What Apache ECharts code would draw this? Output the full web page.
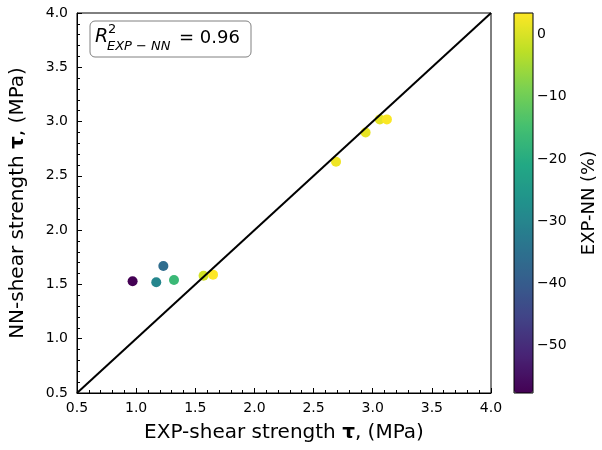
<!DOCTYPE html>
<html><head><meta charset="utf-8">
<script src="https://cdn.jsdelivr.net/npm/echarts@6/dist/echarts.min.js"></script>
<style>html,body{margin:0;padding:0;background:#fff}#c{width:602px;height:450px}</style>
</head><body><div id="c"></div>
<script>
// EXP vs NN shear strength (MPa) and relative difference (%)
const expStrength = [0.97, 1.17, 1.23, 1.32, 1.57, 1.65, 2.69, 2.94, 3.06, 3.12];
const nnStrength  = [1.53, 1.52, 1.67, 1.54, 1.58, 1.59, 2.63, 2.90, 3.02, 3.02];
const errorPct    = [-57.7, -29.9, -35.8, -16.7, -0.6, 3.5, 2.2, 1.4, 1.3, 3.2];
const diagonal    = [0.5, 4.0];
const axisTicks   = [0.5, 1.0, 1.5, 2.0, 2.5, 3.0, 3.5, 4.0];
const cbTicks     = [-50, -40, -30, -20, -10, 0];
const cbRange     = [-57.7, 3.5];
const r2Value     = '0.96';

const viridis = ['#440154','#482475','#414487','#355f8d','#2a788e','#21918c','#22a884','#44bf70','#7ad151','#bddf26','#fde725'];
const FONT = 'DejaVu Sans';
const chart = echarts.init(document.getElementById('c'), null, {renderer: 'canvas'});

const pts = expStrength.map((x, i) => [x, nnStrength[i], errorPct[i]]);
const axisCommon = {
  type: 'value', min: axisTicks[0], max: axisTicks[axisTicks.length - 1], interval: 0.5,
  axisLine: {show: true, onZero: false, lineStyle: {color: '#000', width: 1}},
  axisTick: {show: true, inside: true, length: 5, lineStyle: {color: '#000', width: 1}},
  minorTick: {show: true, splitNumber: 5, length: 3, lineStyle: {color: '#000', width: 1}},
  splitLine: {show: false},
  axisLabel: {formatter: v => v.toFixed(1), fontSize: 14, color: '#000', fontFamily: FONT},
  nameLocation: 'middle',
  nameTextStyle: {fontSize: 20, color: '#000', fontFamily: FONT,
    rich: {b: {fontSize: 20, fontWeight: 'bold', color: '#000', fontFamily: FONT}}}
};

chart.setOption({
  animation: false,
  backgroundColor: '#fff',
  grid: [
    {left: 75, top: 13, width: 416, height: 380, show: true, borderColor: '#000', borderWidth: 1, backgroundColor: 'transparent'},
    {left: 514, top: 13, width: 19, height: 380, show: true, borderColor: '#000', borderWidth: 1, backgroundColor: 'transparent', z: 10}
  ],
  xAxis: [
    Object.assign({}, axisCommon, {gridIndex: 0, name: 'EXP-shear strength {b|τ}, (MPa)', nameGap: 30,
      axisLabel: Object.assign({}, axisCommon.axisLabel, {margin: 8})}),
    {gridIndex: 1, type: 'value', min: 0, max: 1, show: false}
  ],
  yAxis: [
    Object.assign({}, axisCommon, {gridIndex: 0, name: 'NN-shear strength {b|τ}, (MPa)', nameGap: 49,
      axisLabel: Object.assign({}, axisCommon.axisLabel, {margin: 9})}),
    {gridIndex: 1, type: 'value', min: cbRange[0], max: cbRange[1], position: 'right',
      axisLine: {show: false}, splitLine: {show: false},
      axisTick: {show: true, inside: false, length: 5, customValues: cbTicks, lineStyle: {color: '#000'}},
      axisLabel: {show: true, customValues: cbTicks, margin: 4, fontSize: 14, color: '#000', fontFamily: FONT,
        formatter: v => String(v).replace('-', '\u2212')},
      name: 'EXP-NN (%)', nameLocation: 'middle', nameGap: 47,
      nameTextStyle: {fontSize: 18, color: '#000', fontFamily: FONT}}
  ],
  visualMap: {
    type: 'continuous', min: cbRange[0], max: cbRange[1], dimension: 2, seriesIndex: 0,
    inRange: {color: viridis}, left: 514, top: 13, itemWidth: 19, itemHeight: 380,
    calculable: false, padding: 0, orient: 'vertical', text: null, hoverLink: false
  },
  series: [
    {type: 'scatter', xAxisIndex: 0, yAxisIndex: 0, data: pts, symbolSize: 10, z: 2,
      itemStyle: {opacity: 1}},
    {type: 'line', xAxisIndex: 0, yAxisIndex: 0, data: [[diagonal[0], diagonal[0]], [diagonal[1], diagonal[1]]],
      symbol: 'none', lineStyle: {color: '#000', width: 2}, z: 3, silent: true}
  ],
  graphic: [
    {type: 'rect', shape: {x: 90, y: 21, width: 161, height: 36, r: 5},
      style: {fill: '#fff', stroke: '#808080', lineWidth: 1}, z: 100},
    {type: 'text', x: 95, y: 37, z: 101,
      style: {text: 'R', font: 'italic 19px "DejaVu Sans"', fill: '#000', textVerticalAlign: 'middle'}},
    {type: 'text', x: 108, y: 30, z: 101,
      style: {text: '2', font: '13px "DejaVu Sans"', fill: '#000', textVerticalAlign: 'middle'}},
    {type: 'text', x: 107, y: 47, z: 101,
      style: {text: 'EXP \u2212 NN', font: 'italic 13px "DejaVu Sans"', fill: '#000', textVerticalAlign: 'middle'}},
    {type: 'text', x: 179, y: 38, z: 101,
      style: {text: '= ' + r2Value, font: '18px "DejaVu Sans"', fill: '#000', textVerticalAlign: 'middle'}}
  ]
});
</script></body></html>
